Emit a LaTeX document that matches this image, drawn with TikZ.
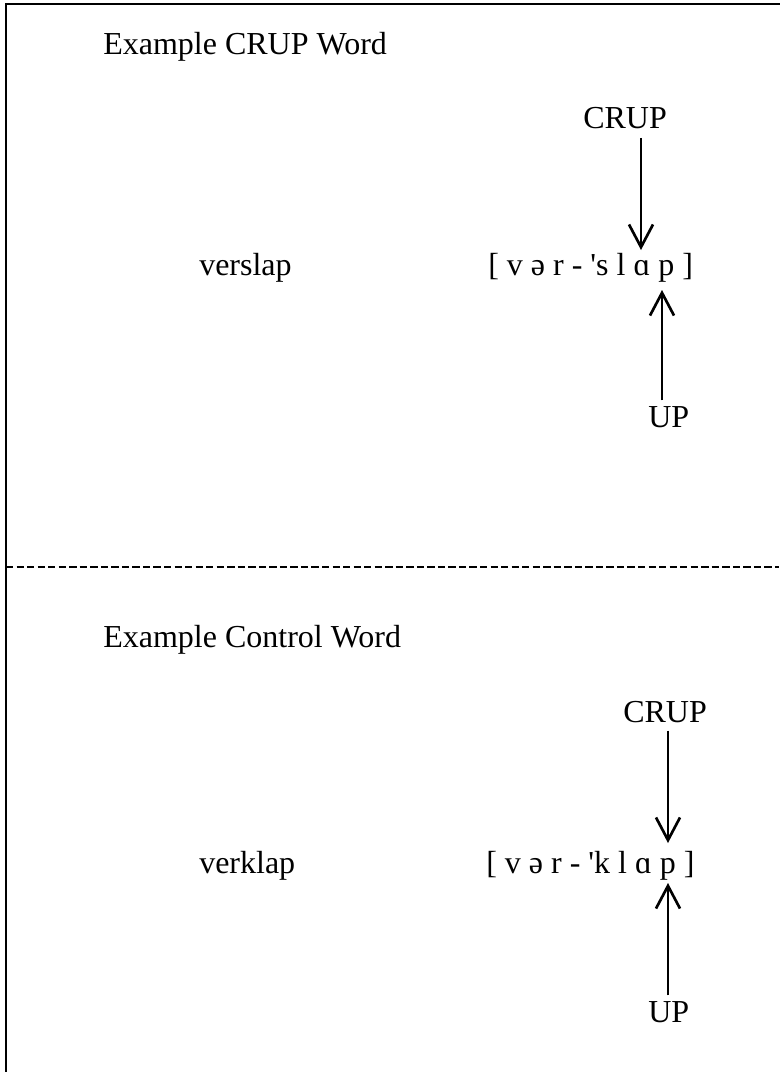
\documentclass[tikz,border=0pt]{standalone}
\usepackage{fontspec}
\setmainfont{Liberation Serif}
\usetikzlibrary{arrows.meta}

\tikzset{
  word/.style={inner sep=0pt, anchor=base west},
  pointer/.style={line width=2pt, -{Straight Barb[length=17pt,width=18pt]}},
}

\begin{document}
\begin{tikzpicture}[x=0.75pt,y=0.75pt,yscale=-1,xscale=1,font=\fontsize{24}{28}\selectfont]
\useasboundingbox (0,0) rectangle (779,1072);
% frame and divider
\draw [line width=2.2pt] (6,1080) -- (6,4) -- (790,4);
\draw [line width=1.9pt,dash pattern={on 5.5pt off 2.4pt}] (6,567) -- (779,567);

% CRUP word
\node [word] (titleA) at (103,54) {Example CRUP Word};
\node [word] (wordA) at (199,275) {verslap};
\node [word] (ipaA) at (488,275) {[ v ə r - \textquotesingle s l ɑ p ]};
\node [word] (crupA) at (583,128) {CRUP};
\node [word] (upA) at (648,427) {UP};
\coordinate (tipA) at (641,250);
\coordinate (tipB) at (662,290);
\draw [pointer,shorten <=7pt] (crupA.south -| tipA) -- (tipA);
\draw [pointer,shorten <=4pt] (upA.north -| tipB) -- (tipB);

% control word
\node [word] (titleB) at (103,647) {Example Control Word};
\node [word] (wordB) at (199,873) {verklap};
\node [word] (ipaB) at (486,873) {[ v ə r - \textquotesingle k l ɑ p ]};
\node [word] (crupB) at (623,722) {CRUP};
\node [word] (upB) at (648,1022) {UP};
\coordinate (tipC) at (668,843);
\coordinate (tipD) at (668,883);
\draw [pointer,shorten <=6pt] (crupB.south -| tipC) -- (tipC);
\draw [pointer,shorten <=4pt] (upB.north -| tipD) -- (tipD);
\end{tikzpicture}
\end{document}
